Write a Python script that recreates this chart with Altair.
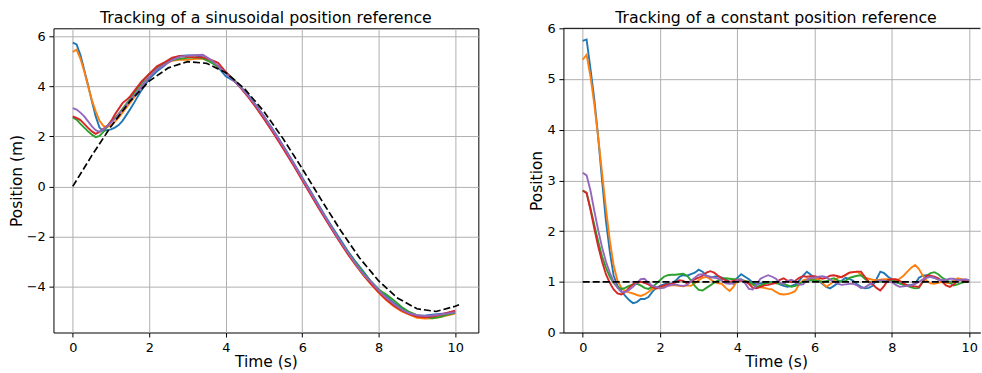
import altair as alt
import pandas as pd

FONT = "DejaVu Sans"
RUNS = ["Run 1", "Run 2", "Run 3", "Run 4", "Run 5"]
RUN_COLORS = ["#1f77b4", "#ff7f0e", "#2ca02c", "#d62728", "#9467bd"]

# ---------------- sinusoidal reference experiment ----------------
SIN_T = [round(0.1 * i, 1) for i in range(21)] + [round(2.0 + 0.2 * i, 1) for i in range(1, 41)]

SIN_RUN_1 = [5.75, 5.68, 5.25, 4.65, 4.05, 3.40, 2.80, 2.35, 2.22, 2.25, 2.28, 2.35, 2.45, 2.62, 2.85,
             3.08, 3.33, 3.60, 3.85, 4.08, 4.30,
             4.60, 4.83, 5.10, 5.22, 5.24, 5.24, 5.16, 5.02, 4.77, 4.40, 4.23, 3.96, 3.64, 3.23, 2.80,
             2.35, 1.87, 1.39, 0.88, 0.36, -0.14, -0.66, -1.18, -1.66, -2.13, -2.60, -3.02, -3.40, -3.80,
             -4.12, -4.40, -4.66, -4.88, -5.05, -5.17, -5.17, -5.13, -5.10, -5.07, -5.00]
SIN_RUN_2 = [5.37, 5.47, 5.10, 4.60, 4.00, 3.45, 3.00, 2.62, 2.42, 2.38, 2.45, 2.58, 2.75, 2.95, 3.15,
             3.35, 3.55, 3.78, 4.00, 4.20, 4.40,
             4.73, 4.91, 5.02, 5.07, 5.06, 5.10, 5.11, 5.00, 4.80, 4.55, 4.27, 3.95, 3.58, 3.16, 2.72,
             2.26, 1.80, 1.32, 0.82, 0.30, -0.22, -0.74, -1.25, -1.76, -2.24, -2.72, -3.15, -3.56, -3.92,
             -4.25, -4.55, -4.80, -5.00, -5.13, -5.25, -5.28, -5.27, -5.22, -5.15, -5.08]
SIN_RUN_3 = [2.76, 2.67, 2.50, 2.35, 2.20, 2.07, 1.97, 2.02, 2.18, 2.40, 2.60, 2.75, 2.90, 3.10, 3.30,
             3.50, 3.72, 3.93, 4.13, 4.32, 4.50,
             4.73, 4.90, 5.05, 5.10, 5.14, 5.16, 5.12, 4.97, 4.80, 4.55, 4.30, 3.97, 3.60, 3.20, 2.77,
             2.30, 1.83, 1.33, 0.82, 0.32, -0.20, -0.72, -1.22, -1.72, -2.20, -2.64, -3.05, -3.46, -3.82,
             -4.13, -4.32, -4.56, -4.82, -5.02, -5.15, -5.20, -5.27, -5.22, -5.12, -5.05]
SIN_RUN_4 = [2.80, 2.74, 2.65, 2.50, 2.34, 2.20, 2.10, 2.18, 2.30, 2.40, 2.60, 2.87, 3.10, 3.33, 3.45,
             3.60, 3.80, 4.00, 4.20, 4.35, 4.50,
             4.80, 4.96, 5.15, 5.21, 5.18, 5.16, 5.16, 5.07, 4.94, 4.58, 4.26, 3.92, 3.55, 3.14, 2.70,
             2.24, 1.76, 1.27, 0.77, 0.25, -0.27, -0.79, -1.29, -1.78, -2.26, -2.72, -3.14, -3.54, -3.90,
             -4.22, -4.52, -4.77, -4.96, -5.10, -5.20, -5.23, -5.20, -5.14, -5.05, -4.97]
SIN_RUN_5 = [3.13, 3.07, 2.95, 2.80, 2.60, 2.40, 2.25, 2.18, 2.28, 2.42, 2.55, 2.70, 2.88, 3.05, 3.25,
             3.45, 3.62, 3.80, 4.00, 4.20, 4.38,
             4.68, 4.86, 5.05, 5.18, 5.23, 5.25, 5.26, 5.07, 4.82, 4.52, 4.24, 3.94, 3.60, 3.21, 2.79,
             2.32, 1.85, 1.36, 0.85, 0.33, -0.19, -0.71, -1.22, -1.72, -2.20, -2.66, -3.10, -3.52, -3.82,
             -4.16, -4.45, -4.70, -4.92, -5.07, -5.15, -5.18, -5.16, -5.12, -5.08, -5.03]

SIN_REF_T = [0.0, 0.5, 1.0, 1.5, 2.0, 2.5, 3.0, 3.5, 4.0, 4.5, 5.0, 5.5, 6.0, 6.5, 7.0, 7.5, 8.0,
             8.5, 9.0, 9.5, 10.0, 10.1]
SIN_REF = [0.0, 1.24, 2.40, 3.41, 4.21, 4.74, 4.99, 4.92, 4.55, 3.89, 2.99, 1.91, 0.71, -0.54,
           -1.75, -2.86, -3.78, -4.47, -4.89, -5.00, -4.79, -4.73]

# ---------------- constant reference experiment ----------------
CONST_T = [round(0.1 * i, 1) for i in range(101)]

CONST_RUN_1 = [5.75, 5.78, 5.20, 4.60, 3.85, 3.00, 2.20, 1.60, 1.12, 0.92,
               0.82, 0.72, 0.64, 0.58, 0.60, 0.66, 0.66, 0.70, 0.80, 0.88,
               0.92, 0.95, 0.97, 0.96, 1.02, 1.10, 1.13, 1.12, 1.15, 1.18,
               1.24, 1.20, 1.12, 1.08, 1.10, 1.11, 1.08, 1.05, 1.00, 0.96,
               1.08, 1.15, 1.10, 1.05, 0.98, 0.95, 0.97, 0.98, 0.99, 0.99,
               1.00, 0.95, 0.92, 0.90, 0.92, 0.95, 1.02, 1.12, 1.20, 1.14,
               1.08, 1.02, 0.96, 0.90, 0.87, 0.92, 0.97, 1.02, 1.08, 1.06,
               1.02, 0.95, 0.90, 0.87, 0.88, 0.92, 1.05, 1.20, 1.17, 1.10,
               1.05, 0.99, 0.97, 0.95, 0.93, 0.94, 0.96, 1.08, 1.12, 1.13,
               1.10, 1.08, 1.05, 1.03, 1.01, 1.00, 1.02, 1.05, 1.03, 1.01,
               1.00]
CONST_RUN_2 = [5.38, 5.48, 5.05, 4.50, 3.85, 3.15, 2.45, 1.82, 1.32, 1.02,
               0.88, 0.82, 0.79, 0.77, 0.74, 0.72, 0.75, 0.80, 0.86, 0.87,
               0.87, 0.90, 0.92, 0.93, 0.93, 0.92, 0.91, 0.93, 0.92, 0.97,
               1.03, 1.08, 1.10, 1.05, 1.00, 0.97, 0.96, 0.88, 0.82, 0.90,
               1.03, 1.02, 1.01, 1.00, 0.95, 0.91, 0.89, 0.88, 0.86, 0.85,
               0.80, 0.76, 0.75, 0.76, 0.78, 0.82, 0.95, 1.03, 1.05, 1.06,
               1.05, 1.06, 0.98, 0.90, 0.95, 1.02, 1.08, 1.10, 1.13, 1.18,
               1.19, 1.20, 1.15, 1.08, 1.06, 1.04, 1.03, 1.04, 1.05, 1.05,
               1.04, 1.03, 1.06, 1.12, 1.20, 1.28, 1.33, 1.25, 1.12, 1.02,
               0.97, 0.96, 0.98, 1.00, 0.98, 0.97, 1.02, 1.07, 1.05, 1.03,
               1.02]
CONST_RUN_3 = [2.80, 2.76, 2.45, 2.12, 1.80, 1.50, 1.28, 1.10, 0.98, 0.90,
               0.86, 0.88, 0.92, 0.95, 0.96, 0.93, 0.88, 0.86, 0.90, 0.96,
               1.03, 1.10, 1.13, 1.14, 1.14, 1.15, 1.16, 1.12, 1.03, 0.92,
               0.84, 0.83, 0.88, 0.93, 0.98, 1.03, 1.06, 1.07, 1.06, 1.05,
               1.05, 1.04, 1.02, 1.00, 0.95, 0.90, 0.93, 0.96, 0.98, 0.99,
               0.97, 0.96, 0.96, 0.93, 0.90, 0.92, 0.96, 1.00, 1.02, 1.03,
               1.03, 1.01, 1.00, 1.01, 1.05, 1.07, 1.03, 1.00, 1.02, 1.08,
               1.10, 1.12, 1.13, 1.06, 1.00, 0.99, 1.00, 1.00, 1.01, 1.02,
               1.03, 1.01, 0.97, 0.94, 0.92, 0.89, 0.87, 0.88, 1.00, 1.12,
               1.17, 1.19, 1.15, 1.08, 1.04, 0.98, 0.93, 0.95, 0.98, 1.00,
               1.00]
CONST_RUN_4 = [2.80, 2.75, 2.42, 2.05, 1.70, 1.40, 1.15, 0.98, 0.85, 0.77,
               0.75, 0.80, 0.88, 0.95, 0.98, 1.00, 0.98, 0.95, 0.90, 0.87,
               0.90, 0.93, 0.95, 0.96, 0.99, 1.03, 1.02, 0.97, 1.00, 1.05,
               1.08, 1.12, 1.18, 1.21, 1.18, 1.12, 1.07, 1.03, 1.00, 1.02,
               1.04, 1.02, 1.01, 0.96, 0.88, 0.87, 0.90, 0.93, 0.94, 0.96,
               0.98, 1.04, 1.07, 1.02, 0.99, 1.02, 1.08, 1.11, 1.10, 1.11,
               1.11, 1.09, 1.06, 1.08, 1.12, 1.13, 1.11, 1.09, 1.14, 1.18,
               1.19, 1.20, 1.20, 1.10, 1.00, 0.95, 0.88, 0.83, 0.92, 1.04,
               1.05, 1.05, 1.02, 0.97, 0.93, 0.92, 0.91, 0.90, 1.00, 1.12,
               1.12, 1.10, 1.07, 1.00, 0.93, 0.90, 0.95, 1.02, 1.04, 1.01,
               1.01]
CONST_RUN_5 = [3.15, 3.10, 2.80, 2.40, 2.02, 1.68, 1.40, 1.18, 1.00, 0.88,
               0.80, 0.80, 0.84, 0.90, 0.98, 1.05, 1.06, 0.98, 0.92, 0.90,
               0.87, 0.88, 0.92, 0.94, 0.95, 0.93, 0.92, 0.94, 1.02, 1.08,
               1.14, 1.15, 1.12, 1.10, 1.08, 1.07, 1.02, 0.97, 0.96, 0.97,
               1.04, 1.05, 0.97, 0.86, 0.85, 0.95, 1.06, 1.10, 1.13, 1.10,
               1.06, 0.98, 0.96, 1.02, 1.04, 1.00, 0.94, 0.95, 1.03, 1.08,
               1.08, 1.10, 1.11, 1.09, 1.04, 1.00, 0.96, 0.94, 0.95, 0.96,
               0.96, 0.93, 0.88, 0.89, 0.94, 0.98, 1.01, 1.03, 1.02, 1.00,
               0.99, 0.94, 0.90, 0.91, 0.92, 0.93, 0.96, 1.00, 1.05, 1.08,
               1.10, 1.08, 1.04, 1.03, 1.04, 1.06, 1.06, 1.03, 1.04, 1.05,
               1.03]

CONST_REF_T = [0.0, 10.0]
CONST_REF = [1.0, 1.0]

TIME_TICKS = [0, 2, 4, 6, 8, 10]


def runs_frame(times, series):
    rows = []
    for name, values in zip(RUNS, series):
        rows += [{"t": t, "pos": v, "run": name} for t, v in zip(times, values)]
    return pd.DataFrame(rows)


sin_runs = runs_frame(SIN_T, [SIN_RUN_1, SIN_RUN_2, SIN_RUN_3, SIN_RUN_4, SIN_RUN_5])
sin_ref = pd.DataFrame({"t": SIN_REF_T, "pos": SIN_REF})
const_runs = runs_frame(CONST_T, [CONST_RUN_1, CONST_RUN_2, CONST_RUN_3, CONST_RUN_4, CONST_RUN_5])
const_ref = pd.DataFrame({"t": CONST_REF_T, "pos": CONST_REF})

run_color = alt.Color("run:N", scale=alt.Scale(domain=RUNS, range=RUN_COLORS), legend=None)


def time_axis(title_x, domain):
    return alt.Axis(values=TIME_TICKS, format="d", title="Time (s)", titleX=title_x, titleY=34.5,
                    titleAlign="center", titleBaseline="alphabetic", domain=domain,
                    labelPadding=4.4, labelFlush=False, labelOverlap=False)


def pos_axis(ticks, title, title_x, domain):
    return alt.Axis(values=ticks, title=title, titleAngle=270, titleX=title_x, titleY=152.5,
                    titleAlign="center", titleBaseline="alphabetic", domain=domain,
                    labelPadding=3.8, labelFlush=False, labelOverlap=False)


def panel_title(text, dx=0, dy=0):
    return alt.TitleParams(text, fontSize=15.8, font=FONT, fontWeight="normal", color="black",
                           anchor="middle", frame="group", baseline="alphabetic", offset=6,
                           dx=dx, dy=dy)


# left: sinusoidal reference
sin_x = alt.X("t:Q", scale=alt.Scale(domain=[-0.505, 10.605], nice=False, zero=False),
              axis=time_axis(213, False))
sin_y = alt.Y("pos:Q", scale=alt.Scale(domain=[-5.84, 6.32], nice=False, zero=False),
              axis=pos_axis([-4, -2, 0, 2, 4, 6], "Position (m)", -32, False))

sin_lines = alt.Chart(sin_runs).mark_line(strokeWidth=1.9).encode(
    x=sin_x, y=sin_y, color=run_color, detail="run:N")
sin_dash = alt.Chart(sin_ref).mark_line(color="black", strokeWidth=1.7, strokeDash=[7, 3]).encode(
    x="t:Q", y="pos:Q")

left = alt.layer(sin_lines, sin_dash).properties(
    width=426, height=305,
    title=panel_title("Tracking of a sinusoidal position reference", dy=16.5),
    view=alt.ViewBackground(stroke="black", strokeWidth=1),
)

# right: constant reference
const_x = alt.X("t:Q", scale=alt.Scale(domain=[-0.5, 10.287], nice=False, zero=False),
                axis=time_axis(213.2, True))
const_y = alt.Y("pos:Q", scale=alt.Scale(domain=[0, 6], nice=False, zero=False),
                axis=pos_axis([0, 1, 2, 3, 4, 5, 6], "Position", -21.5, True))

const_lines = alt.Chart(const_runs).mark_line(strokeWidth=1.9).encode(
    x=const_x, y=const_y, color=run_color, detail="run:N")
const_dash = alt.Chart(const_ref).mark_line(color="black", strokeWidth=1.7, strokeDash=[7, 3]).encode(
    x="t:Q", y="pos:Q")
top_spine = alt.Chart(pd.DataFrame({"pos": [6]})).mark_rule(color="black", strokeWidth=1).encode(
    y="pos:Q")

right = alt.layer(const_lines, const_dash, top_spine).properties(
    width=418, height=305,
    title=panel_title("Tracking of a constant position reference", dx=4.2, dy=22.3),
    view=alt.ViewBackground(stroke="transparent"),
)

chart = alt.hconcat(left, right, spacing=85.3, bounds="flush").properties(
    padding={"left": 8.6, "top": 8.9, "right": 0, "bottom": 0},
    background="white",
).configure(font=FONT).configure_axis(
    labelFont=FONT, titleFont=FONT, labelFontSize=12.9, titleFontSize=15.5, titleFontWeight="normal",
    labelColor="black", titleColor="black", tickColor="black", tickSize=4.5, tickWidth=1,
    domainColor="black", domainWidth=1, gridColor="#b0b0b0", gridWidth=1, grid=True,
)

chart.save("out.html", embed_options={"renderer": "svg", "actions": False})
